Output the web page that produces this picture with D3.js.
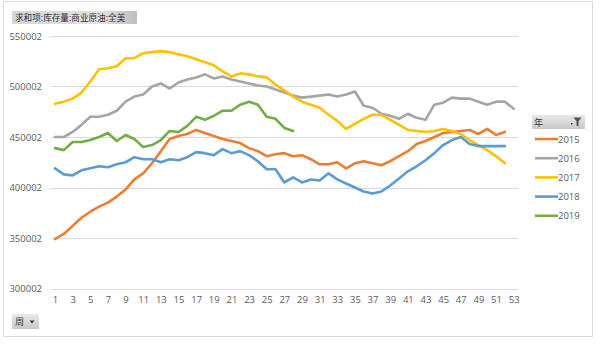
<!DOCTYPE html>
<html>
<head>
<meta charset="utf-8">
<script src="https://cdn.jsdelivr.net/npm/d3@7/dist/d3.min.js"></script>
<style>
  html, body { margin: 0; padding: 0; background: #fff; }
  svg { display: block; font-family: "Microsoft YaHei", "Noto Sans CJK SC", "DejaVu Sans", sans-serif; }
</style>
</head>
<body>
<svg id="chart" width="599" height="346"></svg>
<script>
// Weekly US commercial crude inventory, by year
const weeks = d3.range(1, 54);
const weekTicks = d3.range(1, 54, 2);
const yTicks = [300002, 350002, 400002, 450002, 500002, 550002];
const years = ["2015", "2016", "2017", "2018", "2019"];
const colors = ["#ED7D31", "#A5A5A5", "#FFC000", "#5B9BD5", "#70AD47"];

const s2015 = [349, 354, 362, 370, 376, 381, 385, 391, 398, 408, 414, 424, 436, 448, 451, 453, 457, 454, 451, 448, 446, 444, 439, 436, 431, 433, 434, 431, 432, 428, 423, 423, 425, 419, 424, 426, 424, 422, 426, 431, 436, 443, 446, 450, 454, 455, 456, 457, 453, 458, 452, 455];
const s2016 = [450, 450, 455, 462, 470, 470, 472, 476, 485, 490, 492, 500, 503, 498, 504, 507, 509, 512, 508, 510, 507, 505, 503, 501, 500, 497, 494, 491, 489, 490, 491, 492, 490, 492, 495, 481, 479, 473, 471, 468, 473, 469, 467, 482, 484, 489, 488, 488, 485, 482, 485, 485, 478];
const s2017 = [483, 485, 488, 494, 505, 517, 518, 520, 528, 528, 533, 534, 535, 534, 532, 530, 527, 524, 521, 515, 510, 513, 512, 510, 509, 502, 496, 490, 485, 482, 479, 472, 466, 458, 463, 468, 472, 472, 467, 462, 457, 456, 455, 456, 458, 456, 453, 447, 442, 437, 431, 424];
const s2018 = [419, 413, 412, 417, 419, 421, 420, 423, 425, 430, 428, 428, 425, 428, 427, 430, 435, 434, 432, 438, 434, 436, 432, 426, 418, 418, 405, 410, 405, 408, 407, 414, 408, 404, 400, 396, 394, 396, 402, 409, 416, 421, 427, 434, 442, 447, 450, 443, 441, 441, 441, 441];
const s2019 = [439, 437, 445, 445, 447, 450, 454, 446, 452, 448, 440, 442, 447, 456, 455, 461, 470, 467, 471, 476, 476, 482, 485, 482, 470, 468, 459, 456];
const seriesValues = [s2015, s2016, s2017, s2018, s2019];

const svg = d3.select("#chart");

// outer chart frame
svg.append("rect")
  .attr("x", 3.5).attr("y", 1.5).attr("width", 589).attr("height", 335)
  .attr("fill", "#fff").attr("stroke", "#d9d9d9").attr("stroke-width", 1);

const plot = { left: 50.6, right: 518, top: 36, bottom: 288.5 };

const x = d3.scalePoint().domain(weeks).range([55, 513.7]);
const y = d3.scaleLinear().domain([300002, 550002]).range([plot.bottom, plot.top]);

// horizontal gridlines
svg.append("g").selectAll("line").data(yTicks).join("line")
  .attr("x1", plot.left).attr("x2", plot.right)
  .attr("y1", d => Math.round(y(d)) + 0.5).attr("y2", d => Math.round(y(d)) + 0.5)
  .attr("stroke", "#d9d9d9").attr("stroke-width", 1);

// value axis labels
const yAxis = d3.axisLeft(y).tickValues(yTicks).tickSize(0).tickPadding(0).tickFormat(d3.format("d"));
const gy = svg.append("g").attr("transform", "translate(42,0)").call(yAxis);
gy.select(".domain").remove();
gy.selectAll("text").attr("fill", "#595959").style("font-size", "9.5px")
  .style("font-family", "'Open Sans', 'DejaVu Sans', sans-serif");

// week axis labels
const xAxis = d3.axisBottom(x).tickValues(weekTicks).tickSize(0).tickPadding(0);
const gx = svg.append("g").attr("transform", "translate(0,296)").call(xAxis);
gx.select(".domain").remove();
gx.selectAll("text").attr("fill", "#595959").style("font-size", "9.5px")
  .style("font-family", "'Open Sans', 'DejaVu Sans', sans-serif");

// yearly lines
const line = d3.line()
  .x((d, i) => x(weeks[i]))
  .y(d => y(d * 1000 + 2));

svg.append("g").selectAll("path").data(seriesValues).join("path")
  .attr("d", d => line(d))
  .attr("fill", "none")
  .attr("stroke", (d, i) => colors[i])
  .attr("stroke-width", 2.6)
  .attr("stroke-linejoin", "round")
  .attr("stroke-linecap", "round");

// button gradient
const defs = svg.append("defs");
const grad = defs.append("linearGradient").attr("id", "btn").attr("x1", 0).attr("x2", 0).attr("y1", 0).attr("y2", 1);
grad.append("stop").attr("offset", "0%").attr("stop-color", "#e9e9e9");
grad.append("stop").attr("offset", "100%").attr("stop-color", "#c8c8c8");
const gradH = defs.append("linearGradient").attr("id", "btnH").attr("x1", 0).attr("x2", 1).attr("y1", 0).attr("y2", 0);
gradH.append("stop").attr("offset", "0%").attr("stop-color", "#d6d6d6");
gradH.append("stop").attr("offset", "70%").attr("stop-color", "#e2e2e2");
gradH.append("stop").attr("offset", "100%").attr("stop-color", "#bdbdbd");

// field button: title
svg.append("rect").attr("x", 12).attr("y", 11).attr("width", 125).attr("height", 13)
  .attr("fill", "url(#btnH)");
svg.append("text").attr("x", 15).attr("y", 21)
  .attr("fill", "#333").style("font-size", "8.6px")
  .text("求和项:库存量:商业原油:全美");

// field button: week
svg.append("rect").attr("x", 12).attr("y", 314).attr("width", 27).attr("height", 15)
  .attr("fill", "url(#btn)");
svg.append("text").attr("x", 15).attr("y", 325)
  .attr("fill", "#333").style("font-size", "9px").text("周");
svg.append("path").attr("d", "M29.5,320.5 L34.5,320.5 L32,323.5 Z").attr("fill", "#333");

// legend header
svg.append("rect").attr("x", 532).attr("y", 115).attr("width", 53).attr("height", 14)
  .attr("fill", "url(#btn)");
svg.append("text").attr("x", 534).attr("y", 125.5)
  .attr("fill", "#333").style("font-size", "9px").text("年");
svg.append("rect").attr("x", 571).attr("y", 123).attr("width", 1.5).attr("height", 1.5).attr("fill", "#333");
svg.append("path").attr("d", "M573.5,117.5 L581.5,117.5 L578.5,121.5 L578.5,126.5 L576.5,125.5 L576.5,121.5 Z")
  .attr("fill", "#555");

// legend entries
const legend = svg.append("g").selectAll("g").data(years).join("g")
  .attr("transform", (d, i) => `translate(0,${139 + i * 19.2})`);
legend.append("line")
  .attr("x1", 535).attr("x2", 558).attr("y1", 0).attr("y2", 0)
  .attr("stroke", (d, i) => colors[i]).attr("stroke-width", 2.6);
legend.append("text")
  .attr("x", 558).attr("y", 3.5)
  .attr("fill", "#595959").style("font-size", "9.5px")
  .style("font-family", "'Open Sans', 'DejaVu Sans', sans-serif")
  .text(d => d);
</script>
</body>
</html>
